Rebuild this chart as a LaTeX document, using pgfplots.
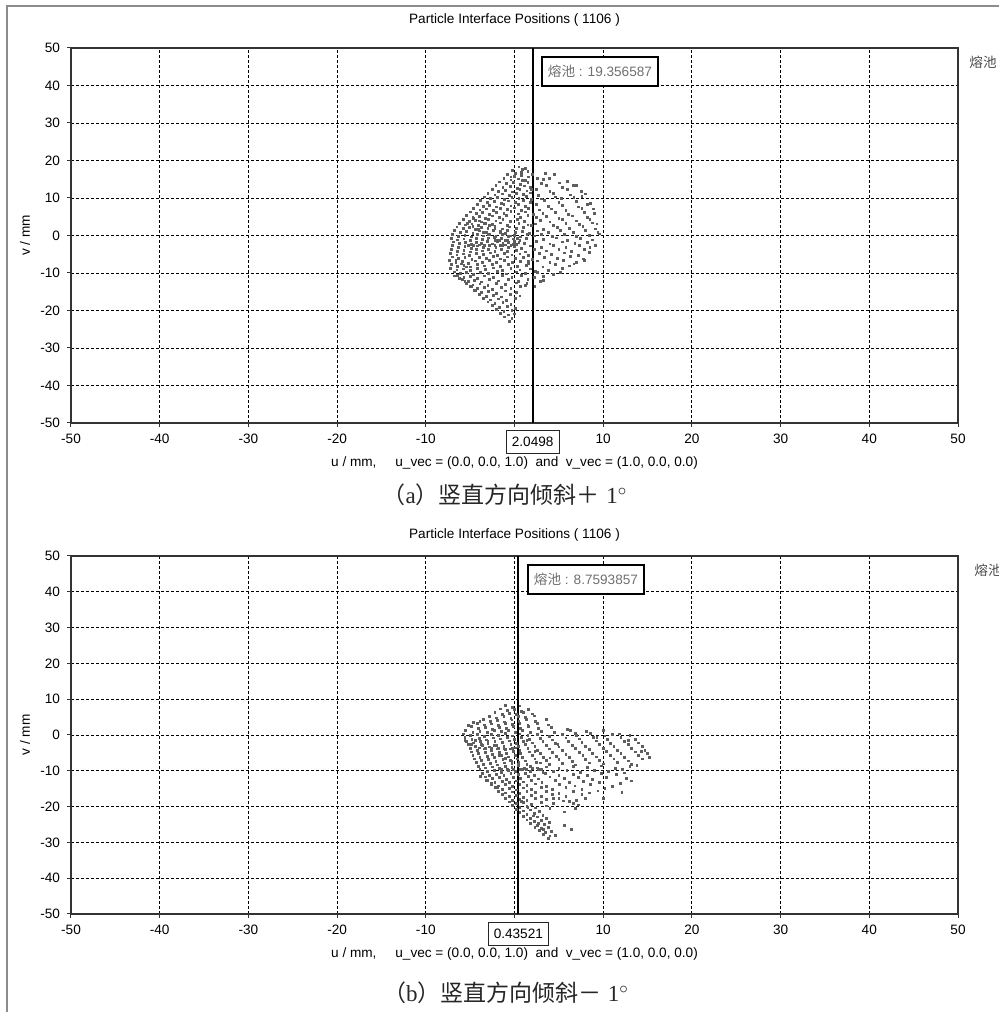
\documentclass[border=0pt]{standalone}
\usepackage{fontspec}
\setmainfont{Liberation Sans}
\newfontfamily\cjk{Noto Sans CJK SC}
\newfontfamily\serif{Liberation Serif}
\usepackage{pgfplots}
\pgfplotsset{compat=1.18}
\definecolor{ptcol}{HTML}{5E5E5E}
\definecolor{framegray}{HTML}{8C8C8C}
\definecolor{boxtext}{HTML}{707070}
\newcommand{\lbl}{\fontsize{6.8}{8}\selectfont}
\pgfplotsset{
  pip/.style={
    scale only axis, width=443.5pt,
    xmin=-50, xmax=50, ymin=-50, ymax=50,
    xtick={-50,-40,...,50}, ytick={-50,-40,...,50},
    xticklabels={-50,-40,-30,-20,-10,,10,20,30,40,50},
    yticklabels={-50,-40,-30,-20,-10,0,10,20,30,40,50},
    tick align=outside, tick pos=left, major tick length=2pt,
    tick style={black!80, line width=0.5pt},
    grid=major, major grid style={black, line width=0.45pt, dash pattern=on 1.5pt off 1pt},
    axis line style={black!80, line width=0.7pt},
    ticklabel style={font=\lbl, text=black},
    xlabel={u / mm,\ \ \ \ \ u\_vec = (0.0, 0.0, 1.0)\ \ and\ \ v\_vec = (1.0, 0.0, 0.0)},
    every axis x label/.style={at={(0.5,0)}, anchor=center, yshift=-20pt, font=\lbl},
    title={Particle Interface Positions ( 1106 )},
    clip=false,
  },
  pts/.style={only marks, mark=square*, mark size=0.45pt, color=ptcol, mark options={draw=ptcol, fill=ptcol}},
}
\begin{document}
\begin{tikzpicture}
\path[use as bounding box] (0,0) rectangle (499.5pt,506pt);
\draw[framegray, line width=1pt] (3.5pt,0) -- (3.5pt,503pt) -- (499.5pt,503pt);

% ---------------- panel (a) ----------------
\begin{axis}[pip, height=187.5pt, at={(35.5pt,294.5pt)}, anchor=south west,
  every axis title/.style={at={(0.5,1)}, anchor=center, yshift=14pt, font=\lbl}]
\addplot[pts] coordinates {
(0.5,18.3)(1.2,17.8)
(-0.2,17.3)(0.8,16.8)(1.5,17.1)(3.5,16.65)
(-0.8,16.3)(0,15.8)(0.8,16.1)(1.6,15.65)(4.5,16.2)
(-1.2,15.3)(-0.4,14.8)(0.4,15.1)(1.2,14.65)(2.6,15.2)(3.3,14.9)
(-1.7,14.3)(-0.9,13.8)(-0.1,14.1)(0.7,13.65)(1.5,14.2)(3.0,13.9)(6.0,14.35)
(-2.1,13.3)(-1.3,12.8)(-0.5,13.1)(0.3,12.65)(1.1,13.2)(1.8,12.9)(3.6,13.35)(5.4,12.75)(7.0,13.3)
(-2.5,12.3)(-1.8,11.8)(-1.0,12.1)(-0.2,11.65)(0.6,12.2)(1.4,11.9)(2.5,12.35)(4.0,11.75)(6.0,12.3)(7.5,11.8)
(-3.0,11.3)(-2.2,10.8)(-1.4,11.1)(-0.6,10.65)(0.2,11.2)(1.0,10.9)(1.8,11.35)(2.7,10.75)(4.4,11.3)(6.3,10.8)(8.0,11.1)
(-3.4,10.3)(-2.7,9.8)(-1.9,10.1)(-1.1,9.65)(-0.3,10.2)(0.5,9.9)(1.3,10.35)(3.0,9.75)(4.6,10.3)(5.3,9.8)(6.7,10.1)
(-3.8,9.3)(-3.1,8.8)(-2.3,9.1)(-1.5,8.65)(-0.7,9.2)(0.1,8.9)(1.0,9.35)(1.8,8.75)(3.4,9.3)(5.0,8.8)(7.0,9.1)(8.6,8.65)
(-4.2,8.3)(-3.5,7.8)(-2.8,8.1)(-2.0,7.65)(-1.2,8.2)(-0.4,7.9)(0.4,8.35)(1.2,7.75)(2.5,8.3)(3.8,7.8)(5.4,8.1)(7.2,7.65)(8.2,8.2)
(-4.6,7.3)(-3.9,6.8)(-3.2,7.1)(-2.4,6.65)(-1.6,7.2)(-0.8,6.9)(0.0,7.35)(0.8,6.75)(1.6,7.3)(2.8,6.8)(4.2,7.1)(5.8,6.65)(7.6,7.2)
(-5.0,6.3)(-4.3,5.8)(-3.6,6.1)(-2.8,5.65)(-2.0,6.2)(-1.2,5.9)(-0.4,6.35)(0.4,5.75)(1.2,6.3)(3.2,5.8)(4.6,6.1)(6.1,5.65)(7.9,6.2)(9.0,5.9)
(-5.4,5.3)(-4.7,4.8)(-4.0,5.1)(-3.3,4.65)(-2.5,5.2)(-1.7,4.9)(-0.9,5.35)(0.7,4.75)(1.5,5.3)(2.5,4.8)(3.6,5.1)(5.0,4.65)(6.5,5.2)(8.2,4.9)
(-5.8,4.3)(-5.1,3.8)(-4.4,4.1)(-3.7,3.65)(-2.9,4.2)(-2.1,3.9)(-1.3,4.35)(-0.5,3.75)(0.3,4.3)(1.1,3.8)(2.9,4.1)(4.0,3.65)(5.4,4.2)(7.0,3.9)(8.5,4.35)
(-6.2,3.3)(-5.5,2.8)(-4.8,3.1)(-4.1,2.65)(-3.3,3.2)(-2.5,2.9)(-1.6,3.35)(-0.8,2.75)(0.5,3.3)(1.5,2.8)(2.4,3.1)(4.4,2.65)(5.8,3.2)(7.3,2.9)(8.8,3.35)
(-6.5,2.3)(-5.8,1.8)(-5.1,2.1)(-4.4,1.65)(-3.7,2.2)(-3.0,1.9)(-2.2,2.35)(-1.4,1.75)(-0.6,2.3)(0.2,1.8)(1.0,2.1)(3.3,1.65)(4.8,2.2)(6.2,1.9)(7.7,2.35)(9.1,1.75)
(-6.8,1.3)(-6.1,0.8)(-5.4,1.1)(-4.7,0.65)(-4.0,1.2)(-3.2,0.9)(-2.4,1.35)(-1.6,0.75)(-0.8,1.3)(0.1,0.8)(0.9,1.1)(1.7,0.65)(2.6,1.2)(3.8,0.9)(5.2,1.35)(6.6,0.75)(8.0,1.3)(9.4,0.8)
(-7.0,0.3)(-6.3,-0.2)(-5.6,0.1)(-4.9,-0.35)(-4.2,0.2)(-3.5,-0.1)(-2.8,0.35)(-2.1,-0.25)(-1.4,0.3)(-0.7,-0.2)(0.0,0.1)(0.7,-0.35)(1.4,0.2)(2.2,-0.1)(3.0,0.35)(4.3,-0.25)(5.6,0.3)(7.0,-0.2)(8.4,0.1)(9.6,0.4)
(-7.1,-0.7)(-6.4,-1.2)(-5.7,-0.9)(-5.0,-1.35)(-4.3,-0.8)(-3.6,-1.1)(-2.9,-0.65)(-2.2,-1.25)(-1.5,-0.7)(-0.8,-1.2)(-0.1,-0.9)(0.6,-1.35)(1.3,-0.8)(3.3,-1.1)(4.7,-0.65)(6.0,-1.25)(7.4,-0.7)(8.8,-1.2)
(-6.9,-1.7)(-6.2,-2.2)(-5.5,-1.9)(-4.9,-2.35)(-4.3,-1.8)(-3.7,-2.1)(-3.1,-1.65)(-2.5,-2.25)(-1.9,-1.7)(-1.3,-2.2)(-0.7,-1.9)(-0.1,-2.35)(0.5,-1.8)(1.1,-2.1)(2.5,-1.65)(4.0,-2.25)(5.4,-1.7)(6.8,-2.2)(8.2,-1.9)
(-5.2,-2.6)(-4.6,-2.7)(-4.0,-2.5)(-3.4,-2.6)(-2.8,-2.8)(-2.2,-2.6)(-1.6,-2.7)(-1.0,-2.5)(-0.4,-2.6)(0.2,-2.4)(-3.0,-1.3)(-2.0,-1.2)(-1.0,-1.4)(0.0,-1.5)
(-7.0,-2.7)(-6.3,-3.2)(-5.6,-2.9)(-4.9,-3.35)(-4.2,-2.8)(-3.5,-3.1)(-2.8,-2.65)(-2.1,-3.25)(-1.4,-2.7)(-0.7,-3.2)(0.0,-2.9)(0.8,-3.35)(1.8,-2.8)(3.0,-3.1)(4.4,-2.65)(5.8,-3.25)(7.3,-2.7)(8.5,-3.2)
(-7.1,-3.7)(-6.4,-4.2)(-5.7,-3.9)(-5.0,-4.35)(-4.3,-3.8)(-3.6,-4.1)(-2.9,-3.65)(-2.2,-4.25)(-1.5,-3.7)(-0.8,-4.2)(0.2,-3.9)(1.2,-4.35)(2.2,-3.8)(3.6,-4.1)(5.0,-3.65)(6.4,-4.25)(7.9,-3.7)
(-7.2,-4.7)(-6.5,-5.2)(-5.8,-4.9)(-5.1,-5.35)(-4.3,-4.8)(-3.5,-5.1)(-2.7,-4.65)(-1.9,-5.25)(-1.1,-4.7)(-0.3,-5.2)(0.6,-4.9)(1.6,-5.35)(2.8,-4.8)(4.2,-5.1)(5.6,-4.65)(7.2,-5.25)
(-7.0,-5.7)(-6.3,-6.2)(-5.6,-5.9)(-4.8,-6.35)(-4.0,-5.8)(-3.2,-6.1)(-2.4,-5.65)(-1.6,-6.25)(-0.8,-5.7)(0.1,-6.2)(1.0,-5.9)(2.0,-6.35)(3.4,-5.8)(4.8,-6.1)(6.3,-5.65)(7.8,-6.25)
(-7.3,-6.7)(-6.6,-7.2)(-5.9,-6.9)(-5.2,-7.35)(-4.4,-6.8)(-3.6,-7.1)(-2.8,-6.65)(-2.0,-7.25)(-1.1,-6.7)(-0.2,-7.2)(0.7,-6.9)(1.6,-7.35)(2.6,-6.8)(4.0,-7.1)(5.5,-6.65)(7.0,-7.25)
(-7.1,-7.7)(-6.4,-8.2)(-5.7,-7.9)(-5.0,-8.35)(-4.2,-7.8)(-3.4,-8.1)(-2.5,-7.65)(-1.6,-8.25)(-0.7,-7.7)(0.3,-8.2)(1.3,-7.9)(3.2,-8.35)(4.6,-7.8)(6.2,-8.1)
(-7.2,-8.7)(-6.5,-9.2)(-5.8,-8.9)(-5.0,-9.35)(-4.2,-8.8)(-3.3,-9.1)(-2.4,-8.65)(-1.4,-9.25)(-0.4,-8.7)(0.6,-9.2)(1.8,-8.9)(3.8,-9.35)(5.4,-8.8)
(-6.8,-9.7)(-6.1,-10.2)(-5.4,-9.9)(-4.6,-10.35)(-3.8,-9.8)(-2.9,-10.1)(-1.9,-9.65)(-0.9,-10.25)(0.2,-9.7)(1.2,-10.2)(2.6,-9.9)(4.4,-10.35)
(-6.4,-10.7)(-5.7,-11.2)(-5.0,-10.9)(-4.2,-11.35)(-3.4,-10.8)(-2.4,-11.1)(-1.4,-10.65)(-0.3,-11.25)(0.8,-10.7)(2.2,-11.2)(3.3,-10.9)
(-5.9,-11.7)(-5.2,-12.2)(-4.5,-11.9)(-3.7,-12.35)(-2.8,-11.8)(-1.8,-12.1)(-0.7,-11.65)(0.4,-12.25)(1.5,-11.7)(2.9,-12.2)
(-5.4,-12.7)(-4.7,-13.2)(-3.9,-12.9)(-3.0,-13.35)(-2.0,-12.8)(-1.0,-13.1)(0.2,-12.65)(1.2,-13.25)
(-4.9,-13.7)(-4.2,-14.2)(-3.4,-13.9)(-2.5,-14.35)(-1.5,-13.8)(-0.4,-14.1)(0.7,-13.65)
(-4.4,-14.7)(-3.7,-15.2)(-2.9,-14.9)(-2.0,-15.35)(-1.0,-14.8)(0.2,-15.1)
(-4.0,-15.7)(-3.2,-16.2)(-2.4,-15.9)(-1.5,-16.35)(-0.5,-15.8)(0.6,-16.1)
(-3.5,-16.7)(-2.7,-17.2)(-1.8,-16.9)(-0.9,-17.35)(0.1,-16.8)
(-3.0,-17.7)(-2.2,-18.2)(-1.3,-17.9)(-0.4,-18.35)
(-2.5,-18.7)(-1.7,-19.2)(-0.8,-18.9)(0.1,-19.35)
(-2.0,-19.7)(-1.2,-20.2)(-0.3,-19.9)
(-1.6,-20.7)(-0.7,-21.2)(0.0,-20.9)
(-1.1,-21.7)(-0.3,-22.2)
(-0.6,-22.9)
(-4.6,4.6)(-4.0,3.9)(-3.4,3.3)(-2.8,2.6)(-2.2,1.9)(-1.6,1.2)(-1.0,0.6)(-0.4,-0.1)(0.3,-0.7)
(-5.3,3.2)(-4.7,2.4)(-4.1,1.6)(-3.5,0.9)(-2.9,0.3)(-2.3,-0.6)(-1.7,-1.3)
(-6.6,-6.5)(-6.0,-7.6)(-5.4,-8.4)(-6.8,-10.8)(-6.2,-11.4)(-5.6,-12.3)(-5.0,-13.5)(-4.5,-14.6)
(1.9,12.2)(0.9,14.7)(0.1,16.6)(-0.4,15.6)(1.9,9.6)(2.1,5.7)(1.9,2.7)(1.6,-6.8)(2.4,-9.6)(1.4,-12.7)
(0.9,17.6)(2.0,16.2)(3.9,15.3)(5.1,14.0)(6.6,13.4)(7.6,10.4)(8.9,7.1)(9.3,3.1)(9.1,-2.6)(8.4,-4.6)(7.9,-6.6)(6.7,-7.6)(5.2,-9.8)(3.3,-11.9)(2.3,-13.6)
};
\draw[black, line width=1.1pt] (2.0498,-50) -- (2.0498,50);
\node[draw=black, line width=0.9pt, fill=white, anchor=north west, inner xsep=3pt,
  minimum height=14.5pt, font=\lbl, text=boxtext] at (2.99,47.9) {{\cjk 熔池} : 19.356587};
\node[draw=black!85, line width=0.5pt, fill=white, anchor=north, inner xsep=2.8pt,
  minimum height=9.5pt, font=\lbl, yshift=-3.5pt] at (2.0498,-50) {2.0498};
\node[font=\fontsize{6.8}{8}\cjk, text=black!70] at ([xshift=12.5pt,yshift=-7pt]rel axis cs:1,1) {熔池};
\node[font=\lbl, rotate=90] at ([xshift=-23pt]rel axis cs:0,0.5) {v / mm};
\end{axis}

% ---------------- panel (b) ----------------
\begin{axis}[pip, height=179pt, at={(35.5pt,49pt)}, anchor=south west,
  every axis title/.style={at={(0.5,1)}, anchor=center, yshift=10.5pt, font=\lbl}]
\addplot[pts] coordinates {
(-1.0,8.3)(-0.2,7.8)(0.6,8.1)
(-1.6,7.3)(-0.8,6.8)(0.0,7.1)(0.8,6.65)(1.6,7.2)
(-2.2,6.3)(-1.4,5.8)(-0.6,6.1)(0.2,5.65)(1.0,6.2)(2.0,5.9)
(-2.8,5.3)(-2.0,4.8)(-1.2,5.1)(-0.4,4.65)(0.4,5.2)(1.2,4.9)(2.2,5.35)
(-3.5,4.3)(-2.7,3.8)(-1.9,4.1)(-1.1,3.65)(-0.3,4.2)(0.5,3.9)(1.3,4.35)(2.4,3.75)(3.6,4.3)
(-4.2,3.3)(-3.4,2.8)(-2.6,3.1)(-1.8,2.65)(-1.0,3.2)(-0.2,2.9)(0.6,3.35)(1.5,2.75)(2.6,3.3)(3.8,2.8)
(-4.9,2.3)(-4.1,1.8)(-3.3,2.1)(-2.5,1.65)(-1.7,2.2)(-0.9,1.9)(-0.1,2.35)(0.7,1.75)(1.6,2.3)(2.7,1.8)(4.2,2.1)(6.0,1.65)
(-5.5,1.3)(-4.7,0.8)(-3.9,1.1)(-3.1,0.65)(-2.3,1.2)(-1.5,0.9)(-0.7,1.35)(0.1,0.75)(0.9,1.3)(1.8,0.8)(3.0,1.1)(4.5,0.65)(6.3,1.2)(8.1,0.9)(10.0,1.35)
(-5.8,0.3)(-5.0,-0.2)(-4.2,0.1)(-3.4,-0.35)(-2.6,0.2)(-1.8,-0.1)(-1.0,0.35)(-0.2,-0.25)(0.6,0.3)(1.5,-0.2)(2.6,0.1)(3.9,-0.35)(5.4,0.2)(7.0,-0.1)(8.6,0.35)(10.2,-0.25)(11.8,0.3)(13.0,-0.2)
(-5.6,-0.7)(-4.8,-1.2)(-4.0,-0.9)(-3.2,-1.35)(-2.4,-0.8)(-1.6,-1.1)(-0.8,-0.65)(0.0,-1.25)(0.8,-0.7)(1.7,-1.2)(2.9,-0.9)(4.3,-1.35)(5.8,-0.8)(7.3,-1.1)(8.9,-0.65)(10.5,-1.25)(12.0,-0.7)(13.6,-1.2)
(-5.4,-1.7)(-4.6,-2.2)(-3.8,-1.9)(-3.0,-2.35)(-2.2,-1.8)(-1.4,-2.1)(-0.6,-1.65)(0.2,-2.25)(1.0,-1.7)(2.0,-2.2)(3.2,-1.9)(4.6,-2.35)(6.1,-1.8)(7.6,-2.1)(9.2,-1.65)(10.8,-2.25)(12.4,-1.7)(14.0,-2.2)
(-5.2,-2.7)(-4.4,-3.2)(-3.6,-2.9)(-2.8,-3.35)(-2.0,-2.8)(-1.2,-3.1)(-0.4,-2.65)(0.4,-3.25)(1.2,-2.7)(2.3,-3.2)(3.6,-2.9)(5.0,-3.35)(6.5,-2.8)(8.0,-3.1)(9.6,-2.65)(11.2,-3.25)(12.8,-2.7)(14.4,-3.2)
(-4.0,-3.6)(-3.3,-3.8)(-2.6,-3.6)(-1.9,-3.9)(-1.2,-3.7)(-0.5,-3.9)(0.1,-3.6)
(-5.0,-3.7)(-4.2,-4.2)(-3.4,-3.9)(-2.6,-4.35)(-1.8,-3.8)(-1.0,-4.1)(-0.2,-3.65)(0.6,-4.25)(1.5,-3.7)(2.6,-4.2)(3.9,-3.9)(5.4,-4.35)(6.9,-3.8)(8.4,-4.1)(10.0,-3.65)(11.6,-4.25)(13.2,-3.7)(14.7,-4.2)
(-4.9,-4.7)(-4.1,-5.2)(-3.3,-4.9)(-2.5,-5.35)(-1.7,-4.8)(-0.9,-5.1)(-0.1,-4.65)(0.7,-5.25)(1.7,-4.7)(2.9,-5.2)(4.3,-4.9)(5.8,-5.35)(7.3,-4.8)(8.8,-5.1)(10.4,-4.65)(12.0,-5.25)(13.6,-4.7)(15.0,-5.2)
(-4.7,-5.7)(-3.9,-6.2)(-3.1,-5.9)(-2.3,-6.35)(-1.5,-5.8)(-0.7,-6.1)(0.1,-5.65)(0.9,-6.25)(2.0,-5.7)(3.3,-6.2)(4.7,-5.9)(6.2,-6.35)(7.7,-5.8)(9.2,-6.1)(10.8,-5.65)(12.4,-6.25)(14.0,-5.7)(15.2,-6.2)
(-4.5,-6.7)(-3.7,-7.2)(-2.9,-6.9)(-2.1,-7.35)(-1.3,-6.8)(-0.5,-7.1)(0.3,-6.65)(1.2,-7.25)(2.3,-6.7)(3.6,-7.2)(5.0,-6.9)(6.5,-7.35)(8.0,-6.8)(9.6,-7.1)(11.2,-6.65)(12.8,-7.25)(14.4,-6.7)
(-4.3,-7.7)(-3.5,-8.2)(-2.7,-7.9)(-1.9,-8.35)(-1.1,-7.8)(-0.3,-8.1)(0.5,-7.65)(1.4,-8.25)(2.5,-7.7)(3.9,-8.2)(5.4,-7.9)(6.9,-8.35)(8.4,-7.8)(10.0,-8.1)(11.6,-7.65)(13.2,-8.25)
(-4.1,-8.7)(-3.3,-9.2)(-2.5,-8.9)(-1.7,-9.35)(-1.0,-8.8)(-0.3,-9.1)(0.4,-8.65)(1.1,-9.25)(1.8,-8.7)(2.6,-9.2)(3.6,-8.9)(5.0,-9.35)(6.6,-8.8)(8.2,-9.1)(9.8,-8.65)(11.4,-9.25)(13.0,-8.7)
(-1.5,-9.6)(-0.8,-9.5)(-0.1,-9.7)(0.6,-9.5)(1.3,-9.6)(2.0,-9.4)(2.7,-9.7)(-2.2,-9.8)
(-3.9,-9.7)(-3.1,-10.2)(-2.3,-9.9)(-1.5,-10.35)(-0.7,-9.8)(0.1,-10.1)(0.9,-9.65)(1.8,-10.25)(3.0,-9.7)(4.4,-10.2)(5.9,-9.9)(7.4,-10.35)(9.0,-9.8)(10.6,-10.1)(12.2,-9.65)
(-3.6,-10.7)(-2.8,-11.2)(-2.0,-10.9)(-1.2,-11.35)(-0.4,-10.8)(0.4,-11.1)(1.2,-10.65)(2.2,-11.25)(3.5,-10.7)(5.0,-11.2)(6.6,-10.9)(8.2,-11.35)(9.8,-10.8)(11.5,-11.1)
(-3.3,-11.7)(-2.5,-12.2)(-1.7,-11.9)(-0.9,-12.35)(-0.1,-11.8)(0.7,-12.1)(1.6,-11.65)(2.7,-12.25)(4.0,-11.7)(5.6,-12.2)(7.2,-11.9)(8.8,-12.35)(10.4,-11.8)(12.6,-12.1)
(-3.0,-12.7)(-2.2,-13.2)(-1.4,-12.9)(-0.6,-13.35)(0.2,-12.8)(1.0,-13.1)(1.9,-12.65)(3.1,-13.25)(4.6,-12.7)(6.2,-13.2)(7.8,-12.9)(9.6,-13.35)(13.2,-12.8)
(-2.6,-13.7)(-1.8,-14.2)(-1.0,-13.9)(-0.2,-14.35)(0.6,-13.8)(1.4,-14.1)(2.4,-13.65)(3.6,-14.25)(5.1,-13.7)(6.8,-14.2)(8.6,-13.9)(11.0,-14.35)
(-2.2,-14.7)(-1.4,-15.2)(-0.6,-14.9)(0.2,-15.35)(1.0,-14.8)(1.9,-15.1)(3.0,-14.65)(4.3,-15.25)(5.8,-14.7)(7.6,-15.2)(10.2,-14.9)
(-1.8,-15.7)(-1.0,-16.2)(-0.2,-15.9)(0.6,-16.35)(1.4,-15.8)(2.4,-16.1)(3.6,-15.65)(5.0,-16.25)(6.6,-15.7)(8.4,-16.2)(12.1,-16.0)
(-1.4,-16.7)(-0.6,-17.2)(0.2,-16.9)(1.0,-17.35)(1.9,-16.8)(3.0,-17.1)(4.3,-16.65)(5.8,-17.25)(7.6,-16.7)
(-1.0,-17.7)(-0.2,-18.2)(0.6,-17.9)(1.4,-18.35)(2.4,-17.8)(3.6,-18.1)(5.0,-17.65)(7.0,-18.25)(10.0,-17.7)
(-0.6,-18.7)(0.2,-19.2)(1.0,-18.9)(1.9,-19.35)(3.0,-18.8)(4.4,-19.1)(6.2,-18.65)(7.2,-19.5)
(-0.2,-19.7)(0.6,-20.2)(1.4,-19.9)(2.4,-20.35)(3.6,-19.8)(4.0,-20.6)
(0.2,-20.7)(1.0,-21.2)(1.8,-20.9)(2.8,-21.35)
(0.6,-21.7)(1.4,-22.2)(2.2,-21.9)(3.2,-22.35)
(1.0,-22.7)(1.8,-23.2)(2.6,-22.9)(3.6,-23.35)
(1.4,-23.7)(2.2,-24.2)(3.0,-23.9)(3.9,-24.35)
(1.8,-24.7)(2.6,-25.2)(3.4,-24.9)(5.6,-25.35)
(2.3,-25.7)(3.0,-26.2)(3.8,-25.9)(6.4,-26.35)
(2.8,-26.7)(3.5,-27.2)(4.2,-26.9)
(3.3,-27.7)(4.0,-28.2)
(3.8,-28.8)
(-5.2,2.6)(-4.6,3.5)(-3.9,3.9)(-5.6,-1.5)(-4.9,-2.6)(-4.4,-1.4)(-3.7,-2.6)(-3.0,-1.7)(-2.3,-2.9)
(-1.7,-5.6)(-1.0,-6.5)(-0.3,-7.4)(0.4,-8.3)(-3.8,-11.6)(-3.2,-12.6)(-2.6,-13.5)(-1.9,-14.6)
(0.8,-18.6)(1.5,-20.3)(2.1,-22.6)(2.7,-24.6)(3.3,-26.4)(4.6,-28.0)
(6.9,0.4)(9.3,-0.6)(11.0,0.1)(12.8,-1.6)(14.3,-4.6)(13.8,-8.6)(12.4,-10.6)(11.9,-13.6)(9.4,-15.6)(8.0,-17.6)(6.6,-19.2)(5.5,-18.4)(4.4,-17.6)(5.6,-21.5)(6.9,-20.4)
(1.4,-1.4)(2.3,-4.6)(2.9,-7.8)(3.2,-10.4)(4.0,-6.4)(4.9,-2.6)
};
\draw[black, line width=1.1pt] (0.43521,-50) -- (0.43521,50);
\node[draw=black, line width=0.9pt, fill=white, anchor=north west, inner xsep=3pt,
  minimum height=14.5pt, font=\lbl, text=boxtext] at (1.41,47.8) {{\cjk 熔池} : 8.7593857};
\node[draw=black!85, line width=0.5pt, fill=white, anchor=north, inner xsep=2.8pt,
  minimum height=9.5pt, font=\lbl, yshift=-4pt] at (0.43521,-50) {0.43521};
\node[font=\fontsize{6.8}{8}\cjk, text=black!70] at ([xshift=15pt,yshift=-7pt]rel axis cs:1,1) {熔池};
\node[font=\lbl, rotate=90] at ([xshift=-23pt]rel axis cs:0,0.5) {v / mm};
\end{axis}

% captions
\node[text=black!85, font=\fontsize{11.5}{13}\selectfont] at (252.5pt,258.5pt)
  {{\cjk （}{\serif a}{\cjk ）竖直方向倾斜＋}\ {\serif 1}$^{\circ}$};
\node[text=black!85, font=\fontsize{11.5}{13}\selectfont] at (253pt,9.5pt)
  {{\cjk （}{\serif b}{\cjk ）竖直方向倾斜－}\ {\serif 1}$^{\circ}$};
\end{tikzpicture}
\end{document}
